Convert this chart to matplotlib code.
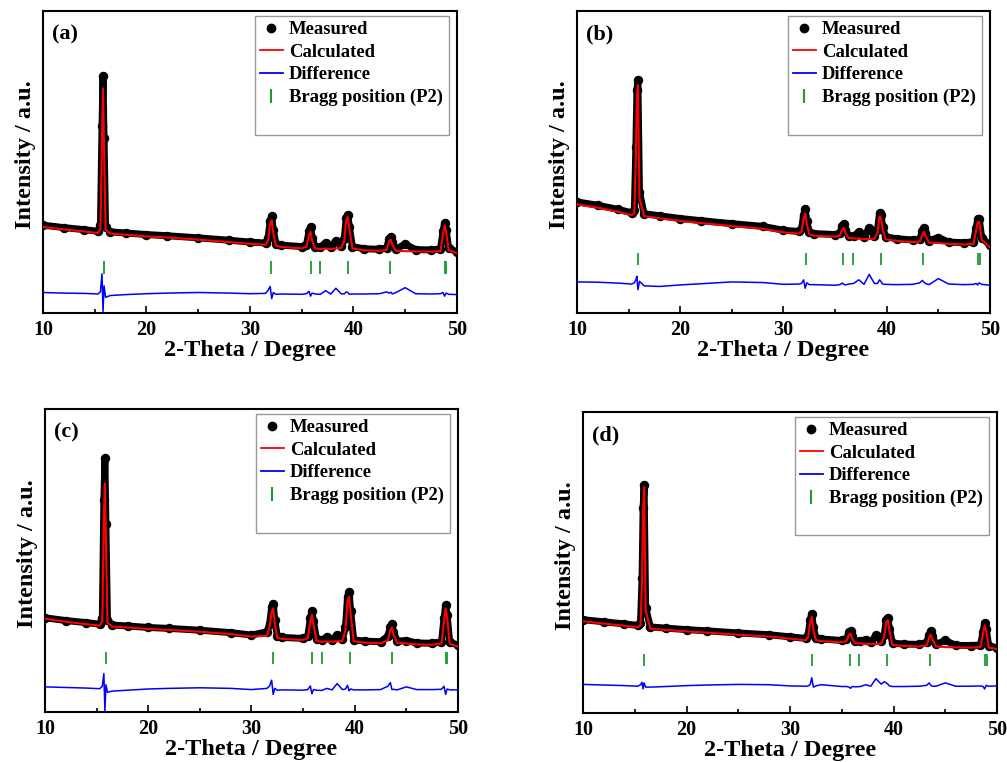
import matplotlib
matplotlib.use("Agg")
import matplotlib.pyplot as plt
from matplotlib.lines import Line2D

plt.rcParams["font.family"] = ["Liberation Serif", "DejaVu Serif"]
plt.rcParams["font.weight"] = "bold"
plt.rcParams["axes.labelweight"] = "bold"

#######################################################
# 1. data (intensity in a.u., 0-100)
#######################################################
two_theta = [10, 12, 14, 15.3, 15.55, 15.7, 15.8, 15.9, 16.05, 16.5,
             18, 20, 22, 25, 28, 30, 31.5, 31.75, 31.95, 32.1,
             32.25, 32.5, 33, 35, 35.45, 35.7, 35.85, 36.0, 36.3, 36.8,
             37.3, 37.8, 38.3, 38.8, 39.1, 39.3, 39.45, 39.6, 39.9, 41,
             42.5, 43.2, 43.45, 43.6, 43.75, 44.1, 45.0, 46, 47.5, 48.4,
             48.65, 48.8, 48.95, 49.2, 50]

# (a)
meas_a = [29.1, 28.3, 27.6, 27.1, 29.0, 62.0, 78.5, 58.0, 28.5, 26.9,
          26.5, 26.0, 25.6, 24.9, 24.1, 23.5, 23.2, 25.0, 30.5, 32.0,
          27.5, 23.0, 22.5, 22.0, 22.6, 27.0, 28.5, 25.0, 22.0, 21.8,
          23.3, 22.0, 23.9, 22.2, 24.5, 31.5, 32.6, 28.5, 22.0, 21.3,
          21.1, 21.6, 24.6, 25.2, 23.5, 21.2, 22.8, 21.0, 20.9, 21.2,
          27.0, 29.8, 27.5, 21.5, 20.2]
calc_a = [28.5, 27.7, 27.0, 26.5, 28.0, 58.0, 74.4, 54.0, 27.5, 26.3,
          25.9, 25.4, 25.0, 24.3, 23.5, 22.9, 22.6, 24.0, 29.5, 30.7,
          26.5, 22.4, 21.9, 21.4, 21.9, 25.8, 26.9, 24.0, 21.4, 21.2,
          21.3, 21.2, 21.4, 21.5, 23.8, 30.8, 31.8, 27.8, 21.4, 20.8,
          20.6, 20.9, 23.8, 24.3, 22.6, 20.6, 20.5, 20.4, 20.3, 20.5,
          26.2, 29.1, 26.8, 20.8, 19.8]
diff_a = [6.8, 6.6, 6.5, 6.3, 7.0, 13.0, 0.5, 9.0, 5.2, 5.8,
          6.1, 6.4, 6.6, 6.8, 6.6, 6.4, 6.5, 7.5, 8.8, 4.8,
          6.8, 6.2, 6.3, 6.2, 6.4, 7.2, 5.6, 6.6, 6.3, 6.2,
          7.4, 6.3, 8.2, 6.4, 6.3, 7.0, 6.8, 6.2, 6.3, 6.3,
          6.4, 7.0, 6.6, 6.9, 6.3, 6.8, 8.4, 6.4, 6.3, 6.4,
          6.8, 5.6, 6.6, 6.2, 6.1]
bragg_a = [15.85, 32.05, 35.9, 36.8, 39.45, 43.55, 48.82, 48.92]

# (b)
meas_b = [36.8, 35.7, 34.3, 33.2, 34.0, 55.0, 74.0, 77.1, 40.0, 32.9,
          32.2, 31.3, 30.6, 29.6, 28.7, 27.4, 27.0, 28.0, 32.5, 34.3,
          30.5, 26.8, 26.3, 26.0, 26.5, 28.8, 29.4, 27.5, 25.6, 25.4,
          26.9, 25.2, 28.2, 25.4, 27.5, 33.1, 32.5, 28.5, 25.2, 24.6,
          24.2, 24.5, 27.0, 28.0, 26.5, 24.0, 25.0, 23.5, 23.3, 23.6,
          28.0, 31.0, 31.3, 25.0, 22.4]
calc_b = [36.0, 34.9, 33.5, 32.4, 33.0, 52.0, 72.0, 75.5, 38.0, 32.1,
          31.4, 30.5, 29.8, 28.8, 27.9, 26.7, 26.3, 27.0, 31.5, 32.9,
          29.5, 26.1, 25.6, 25.3, 25.7, 27.6, 28.2, 26.5, 24.9, 24.7,
          24.6, 24.5, 24.5, 24.6, 26.5, 32.0, 31.5, 27.6, 24.4, 23.9,
          23.5, 23.7, 26.0, 26.9, 25.6, 23.3, 23.2, 22.9, 22.7, 22.9,
          27.2, 30.0, 30.2, 24.2, 21.8]
diff_b = [10.3, 10.2, 9.9, 9.6, 10.0, 11.0, 12.2, 7.7, 10.5, 9.0,
          8.8, 9.3, 9.7, 10.3, 10.1, 9.5, 9.6, 9.8, 11.0, 8.2,
          10.0, 9.4, 9.4, 9.2, 9.4, 9.9, 9.5, 9.3, 9.6, 9.8,
          11.0, 9.5, 12.8, 9.8, 9.8, 11.0, 10.4, 9.6, 9.5, 9.4,
          9.5, 10.0, 10.8, 10.2, 9.8, 9.4, 11.4, 9.6, 9.4, 9.5,
          9.8, 9.3, 10.0, 9.5, 9.2]
bragg_b = [15.88, 32.17, 35.78, 36.69, 39.4, 43.54, 48.84, 49.08]

# (c)
meas_c = [31.1, 30.2, 29.5, 29.0, 31.0, 70.0, 83.8, 62.0, 30.5, 28.7,
          28.4, 27.9, 27.6, 27.0, 26.2, 25.4, 26.5, 29.0, 34.5, 35.8,
          30.5, 25.0, 24.6, 24.3, 25.0, 31.0, 33.3, 30.0, 24.0, 23.7,
          24.8, 23.8, 25.4, 24.0, 28.0, 38.0, 39.5, 33.5, 23.8, 23.4,
          23.2, 25.0, 28.0, 28.9, 26.5, 23.4, 23.6, 22.8, 22.7, 23.2,
          31.0, 35.3, 32.0, 23.0, 22.1]
calc_c = [30.8, 29.8, 29.0, 28.5, 30.0, 65.0, 75.5, 57.0, 29.5, 28.2,
          27.9, 27.4, 27.1, 26.5, 25.7, 24.9, 25.2, 28.0, 33.0, 34.2,
          29.5, 24.5, 24.1, 23.8, 24.4, 30.0, 32.0, 29.0, 23.5, 23.2,
          23.3, 23.2, 23.4, 23.4, 27.0, 36.8, 38.0, 32.5, 23.3, 22.9,
          22.7, 23.6, 27.0, 27.9, 25.6, 22.9, 22.6, 22.3, 22.2, 22.6,
          30.0, 34.2, 31.0, 22.5, 21.6]
diff_c = [8.3, 8.1, 7.9, 7.7, 8.5, 12.7, 0.3, 9.0, 6.5, 6.9,
          7.2, 7.6, 7.8, 8.0, 7.8, 7.4, 7.8, 8.6, 10.5, 5.8,
          7.8, 7.2, 7.3, 7.2, 7.4, 8.6, 6.0, 7.4, 7.2, 7.1,
          7.8, 7.3, 9.4, 7.4, 7.6, 8.8, 7.0, 7.6, 7.3, 7.3,
          7.4, 8.5, 9.7, 7.4, 7.5, 7.3, 8.3, 7.4, 7.4, 7.5,
          8.5, 5.8, 7.6, 7.3, 7.3]
bragg_c = [15.9, 32.1, 35.9, 36.8, 39.5, 43.6, 48.86, 48.94]

# (d)
meas_d = [31.0, 30.3, 29.6, 29.1, 30.0, 45.0, 68.0, 75.6, 35.0, 28.6,
          28.2, 27.7, 27.3, 26.6, 26.0, 25.3, 24.8, 26.0, 31.0, 33.0,
          28.5, 24.8, 24.6, 24.1, 24.5, 26.8, 27.2, 25.5, 23.8, 23.8,
          24.4, 23.5, 25.8, 24.0, 26.0, 31.0, 31.6, 28.0, 23.2, 22.9,
          22.8, 23.5, 26.0, 27.2, 25.5, 22.8, 24.1, 22.5, 22.4, 22.6,
          27.0, 29.9, 28.0, 22.3, 21.7]
calc_d = [30.5, 29.7, 29.0, 28.5, 29.2, 44.0, 67.0, 75.1, 34.0, 28.0,
          27.6, 27.1, 26.7, 26.0, 25.4, 24.7, 24.2, 25.3, 30.0, 31.9,
          27.8, 24.2, 23.9, 23.5, 23.9, 26.0, 26.4, 24.8, 23.2, 23.1,
          23.0, 22.9, 22.9, 23.0, 25.3, 30.2, 30.8, 27.3, 22.6, 22.3,
          22.1, 22.5, 25.2, 26.0, 24.6, 22.1, 21.9, 21.8, 21.7, 21.9,
          26.3, 29.1, 27.3, 21.7, 21.3]
diff_d = [9.5, 9.3, 9.1, 8.9, 9.4, 10.2, 8.0, 10.0, 8.6, 8.6,
          8.8, 9.1, 9.3, 9.5, 9.4, 9.0, 8.9, 9.0, 9.5, 11.7,
          8.6, 9.0, 9.4, 8.8, 8.8, 8.6, 8.2, 8.8, 8.7, 8.8,
          9.4, 8.9, 11.4, 9.6, 10.4, 10.0, 9.6, 9.0, 8.8, 8.8,
          8.9, 9.2, 10.0, 9.2, 8.9, 8.9, 10.0, 8.9, 8.9, 9.0,
          8.8, 8.0, 9.2, 8.9, 9.0]
bragg_d = [15.93, 32.1, 35.8, 36.7, 39.4, 43.5, 48.8, 49.02]

panel_labels = ["(a)", "(b)", "(c)", "(d)"]
legend_labels = ["Measured", "Calculated", "Difference", "Bragg position (P2)"]

#######################################################
# 2. figure layout
#######################################################
fig = plt.figure(figsize=(10.07, 7.62), dpi=100)

# axes rectangles [left, bottom, width, height] in figure fraction
rects = [[0.0427, 0.5892, 0.4111, 0.3963],
         [0.5730, 0.5892, 0.4101, 0.3963],
         [0.0447, 0.0656, 0.4101, 0.3976],
         [0.5790, 0.0643, 0.4111, 0.3950]]
# vertical extent of the Bragg tick marks per panel
bragg_span = [(13.0, 17.2), (16.0, 19.9), (15.8, 19.8), (15.5, 19.7)]

measured = [meas_a, meas_b, meas_c, meas_d]
calculated = [calc_a, calc_b, calc_c, calc_d]
difference = [diff_a, diff_b, diff_c, diff_d]
braggs = [bragg_a, bragg_b, bragg_c, bragg_d]

green = "#1f9a2e"

for i in range(4):
    ax = fig.add_axes(rects[i])

    # measured points drawn as a thick band of dots
    ax.plot(two_theta, measured[i], color="black", lw=5.0, marker="o", ms=5.8,
            solid_joinstyle="round", solid_capstyle="round", zorder=2)
    ax.plot(two_theta, calculated[i], color="red", lw=1.5, zorder=3)
    ax.plot(two_theta, difference[i], color="blue", lw=1.1, zorder=3)
    lo, hi = bragg_span[i]
    ax.vlines(braggs[i], lo, hi, color=green, lw=1.3, zorder=4)

    ax.set_xlim(10, 50)
    ax.set_ylim(0, 100)
    ax.set_xticks([10, 20, 30, 40, 50])
    ax.set_xticks([15, 25, 35, 45], minor=True)
    ax.tick_params(axis="x", which="major", direction="in", length=5, width=1.2,
                   labelsize=14.5, pad=5)
    ax.tick_params(axis="x", which="minor", direction="in", length=3, width=1.2)
    ax.tick_params(axis="y", which="both", left=False, labelleft=False)
    for sp in ax.spines.values():
        sp.set_linewidth(1.5)

    ax.set_xlabel("2-Theta / Degree", fontsize=17.5, labelpad=0)
    ax.set_ylabel("Intensity / a.u.", fontsize=17.5)
    ax.yaxis.set_label_coords(-0.018, 0.523)
    ax.text(0.022, 0.955, panel_labels[i], transform=ax.transAxes,
            fontsize=16, fontweight="bold", va="top", ha="left")

    # legend (the original box has an empty last row)
    handles = [Line2D([], [], ls="none", marker="o", color="black", ms=6),
               Line2D([], [], color="red", lw=1.3),
               Line2D([], [], color="blue", lw=1.3),
               Line2D([], [], ls="none", marker="|", color=green, ms=10, mew=1.5),
               Line2D([], [], ls="none")]
    leg = ax.legend(handles, legend_labels + [" "], loc="upper right",
                    bbox_to_anchor=(0.98, 0.985), borderaxespad=0,
                    fontsize=13.4, handlelength=1.2, handletextpad=0.35,
                    labelspacing=0.3, borderpad=0.3, fancybox=False,
                    framealpha=1, edgecolor="#999999")
    leg.get_frame().set_linewidth(1.0)

fig.savefig("out.png", dpi=100)
